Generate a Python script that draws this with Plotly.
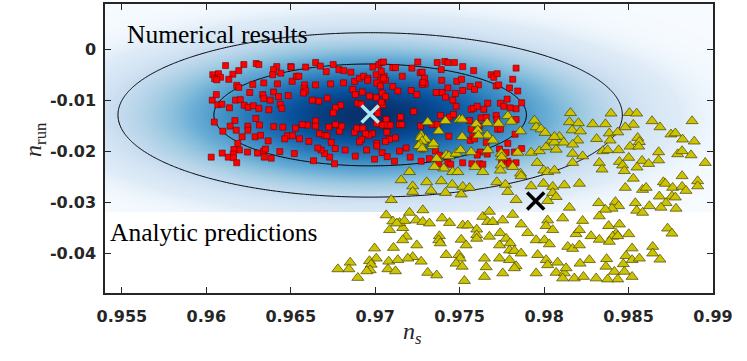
import numpy as np
import plotly.graph_objects as go
import plotly.express as px

# numerical results (red squares)
red_pts = [(0.96114,-0.0031),(0.96222,-0.0029),(0.96295,-0.0027),(0.96311,-0.0029),(0.96417,-0.0033),(0.96398,-0.0039),(0.9650,-0.0033),(0.96038,-0.0049),(0.96072,-0.0047),(0.96084,-0.0054),(0.96049,-0.0057),(0.96062,-0.0059),(0.96157,-0.0048),(0.96192,-0.0041),(0.96133,-0.0058),(0.9618,-0.0070),(0.96192,-0.0074),(0.96275,-0.0068),(0.9634,-0.0065),(0.96421,-0.0067),(0.96508,-0.0062),(0.96393,-0.0049),(0.96441,-0.0046),(0.96035,-0.0099),(0.96059,-0.0088),(0.96068,-0.0108),(0.96092,-0.0107),(0.96137,-0.0114),(0.96173,-0.0099),(0.96201,-0.0098),(0.96224,-0.0109),(0.96248,-0.0113),(0.96278,-0.0110),(0.96311,-0.0115),(0.96257,-0.0084),(0.96334,-0.0088),(0.9634,-0.0096),(0.96378,-0.0099),(0.96398,-0.0083),(0.96427,-0.0092),(0.96485,-0.0090),(0.96437,-0.0107),(0.96447,-0.0115),(0.9637,-0.0118),(0.96169,-0.0139),(0.96141,-0.0150),(0.96177,-0.0158),(0.96246,-0.0150),(0.96246,-0.0158),(0.96293,-0.0135),(0.96315,-0.0148),(0.96399,-0.0151),(0.96453,-0.0152),(0.96047,-0.0142),(0.96098,-0.0160),(0.96212,-0.0171),(0.96289,-0.0171),(0.96321,-0.0168),(0.96366,-0.0179),(0.9648,-0.0169),(0.9651,-0.0169),(0.96464,-0.0175),(0.96186,-0.0184),(0.96196,-0.0197),(0.96244,-0.0201),(0.96163,-0.0196),(0.96159,-0.0205),(0.9613,-0.0211),(0.96161,-0.0212),(0.96094,-0.0203),(0.96029,-0.0211),(0.9618,-0.0222),(0.96303,-0.0203),(0.9634,-0.0199),(0.9635,-0.0195),(0.96343,-0.0211),(0.96384,-0.0213),(0.96435,-0.0200),
    (0.96647,-0.0025),(0.96751,-0.0029),(0.96675,-0.0032),(0.96588,-0.0034),(0.96503,-0.0034),(0.96533,-0.0052),(0.96548,-0.0052),(0.96582,-0.0069),(0.96578,-0.0076),(0.96588,-0.0081),(0.96576,-0.0085),(0.9671,-0.0043),(0.96785,-0.0039),(0.96814,-0.0041),(0.96856,-0.0044),(0.96878,-0.0062),(0.96907,-0.0056),(0.96931,-0.0052),(0.96956,-0.0056),(0.96956,-0.0060),(0.96986,-0.0034),(0.97021,-0.0029),(0.97036,-0.0025),(0.97006,-0.0049),(0.97031,-0.0060),(0.97009,-0.0065),(0.97053,-0.0052),(0.9703,-0.0071),(0.96736,-0.0067),(0.96812,-0.0065),(0.96647,-0.0069),(0.96867,-0.0078),(0.96882,-0.0088),(0.96923,-0.0083),(0.96966,-0.0091),(0.97006,-0.0094),(0.97041,-0.0085),(0.96627,-0.0099),(0.96666,-0.0101),(0.96716,-0.0095),(0.96897,-0.0105),(0.96917,-0.0107),(0.96795,-0.0109),(0.96765,-0.0114),(0.96751,-0.0124),(0.97045,-0.0108),(0.97012,-0.0116),(0.97015,-0.0125),(0.97041,-0.0147),(0.97009,-0.0145),(0.96982,-0.0165),(0.96962,-0.0168),(0.97009,-0.0184),(0.97009,-0.0189),(0.97041,-0.0202),(0.96996,-0.0215),(0.96949,-0.0197),(0.96882,-0.0209),(0.96822,-0.0197),(0.96759,-0.0224),(0.9673,-0.0211),(0.967,-0.0204),(0.9668,-0.0197),(0.9666,-0.0193),(0.96635,-0.0218),(0.96521,-0.0204),(0.96552,-0.0175),(0.96528,-0.0154),(0.96598,-0.0148),(0.96647,-0.0140),(0.96647,-0.0150),(0.9667,-0.0165),(0.967,-0.0168),(0.96714,-0.0169),(0.96725,-0.0152),(0.96765,-0.0147),(0.96789,-0.0160),(0.96802,-0.0150),(0.96878,-0.0162),(0.96891,-0.0154),(0.96927,-0.0154),(0.96943,-0.0165),(0.96919,-0.0176),(0.96907,-0.0181),(0.9674,-0.0182),(0.96763,-0.0194),(0.96607,-0.0180),(0.96568,-0.0147),
    (0.97049,-0.0024),(0.97104,-0.0035),(0.9712,-0.0035),(0.97217,-0.0036),(0.97252,-0.0024),(0.97266,-0.0045),(0.97278,-0.0044),(0.97367,-0.0025),(0.97412,-0.0023),(0.9743,-0.0025),(0.97469,-0.0025),(0.97518,-0.0033),(0.97583,-0.0041),(0.97036,-0.0042),(0.97061,-0.0060),(0.97049,-0.0056),(0.9716,-0.0052),(0.97292,-0.0056),(0.97296,-0.0067),(0.97278,-0.0068),(0.97282,-0.0064),(0.97391,-0.0039),(0.97394,-0.0060),(0.9743,-0.0075),(0.97483,-0.0062),(0.97511,-0.0058),(0.97518,-0.0080),(0.97562,-0.0072),(0.97475,-0.0086),(0.97459,-0.0099),(0.97479,-0.0111),(0.97396,-0.0084),(0.97361,-0.0084),(0.97416,-0.0093),(0.97104,-0.0072),(0.97134,-0.0081),(0.97213,-0.0080),(0.97246,-0.0088),(0.97061,-0.0092),(0.97036,-0.0103),(0.97065,-0.0137),(0.9715,-0.0132),(0.97144,-0.0147),(0.97157,-0.0147),(0.97228,-0.0121),(0.97386,-0.0129),(0.9744,-0.0132),(0.97463,-0.0127),(0.97568,-0.0117),(0.97582,-0.0115),(0.97268,-0.0150),(0.97337,-0.0147),(0.97367,-0.0147),(0.97045,-0.0148),(0.97071,-0.0148),(0.97089,-0.0148),(0.97069,-0.0162),(0.9712,-0.0173),(0.97085,-0.0176),(0.97061,-0.0180),(0.97071,-0.0210),(0.97144,-0.0199),(0.97183,-0.0193),(0.97278,-0.0195),(0.97357,-0.0199),(0.9738,-0.0207),(0.97207,-0.0211),(0.97272,-0.0219),(0.97114,-0.0219),(0.97436,-0.0170),(0.97562,-0.0178),(0.97578,-0.0170),(0.97321,-0.0214),(0.97376,-0.0224),(0.9743,-0.0222),(0.97447,-0.0225),(0.97518,-0.0222),(0.97572,-0.0224),
    (0.97686,-0.0049),(0.97702,-0.0054),(0.97722,-0.0047),(0.97716,-0.0071),(0.97731,-0.0069),(0.97834,-0.0036),(0.97814,-0.0058),(0.97795,-0.0075),(0.97844,-0.0081),(0.97611,-0.0069),(0.97588,-0.0078),(0.97781,-0.0097),(0.97741,-0.0105),(0.97761,-0.0111),(0.97666,-0.0105),(0.97643,-0.0117),(0.97604,-0.0111),(0.97867,-0.0104),(0.97834,-0.0116),(0.97799,-0.0114),(0.97558,-0.0139),(0.97627,-0.0134),(0.97657,-0.0133),(0.97716,-0.0129),(0.9772,-0.0137),(0.97834,-0.0137),(0.97568,-0.0156),(0.97617,-0.0150),(0.97588,-0.0175),(0.97725,-0.0156),(0.97741,-0.0156),(0.97657,-0.0182),(0.97785,-0.0184),(0.97828,-0.0166),(0.97775,-0.0202),(0.97867,-0.0194),(0.97824,-0.0201),(0.97736,-0.0195),(0.97621,-0.0201),(0.97604,-0.0207),(0.97663,-0.0205),(0.97617,-0.0224),(0.97637,-0.0225),(0.97749,-0.0217),(0.97785,-0.0219),(0.97795,-0.0224),(0.97834,-0.0222)]

# analytic predictions (yellow triangles)
yel_pts = [(0.97311,-0.0142),(0.97416,-0.0140),(0.97499,-0.0137),(0.97515,-0.0137),(0.97376,-0.0160),(0.97272,-0.0168),(0.97268,-0.0173),(0.97298,-0.0176),(0.97278,-0.0180),(0.97266,-0.0186),(0.97258,-0.0189),(0.97278,-0.0194),(0.97341,-0.0189),(0.97345,-0.0184),(0.97515,-0.0171),(0.97364,-0.0214),(0.9742,-0.0207),(0.97436,-0.0209),(0.97479,-0.0204),(0.97505,-0.0197),(0.97568,-0.0201),(0.97406,-0.0233),(0.97459,-0.0240),(0.97489,-0.0240),(0.97203,-0.0240),(0.97351,-0.0230),
    (0.97598,-0.0146),(0.97663,-0.0144),(0.9773,-0.0145),(0.97607,-0.0158),(0.97785,-0.0130),(0.97805,-0.0141),(0.9786,-0.0160),(0.97943,-0.0139),(0.97953,-0.0152),(0.97982,-0.0156),(0.98006,-0.0163),(0.97663,-0.0168),(0.97696,-0.0178),(0.97611,-0.0168),(0.97666,-0.0197),(0.97746,-0.0204),(0.97749,-0.0211),(0.97844,-0.0202),(0.97923,-0.0202),(0.97972,-0.0199),(0.98012,-0.0191),(0.98045,-0.0178),(0.98061,-0.0182),(0.98071,-0.0196),(0.98091,-0.0171),(0.98061,-0.0171),(0.98116,-0.0182),(0.97959,-0.0222),(0.97998,-0.0237),(0.98021,-0.0240),(0.98061,-0.0237),(0.97592,-0.0230),(0.97637,-0.0240),(0.97746,-0.0227),(0.97814,-0.0230),(0.9786,-0.0243),(0.97741,-0.0237),
    (0.98169,-0.0204),(0.98169,-0.0222),(0.97305,-0.0260),(0.97391,-0.0258),(0.97456,-0.0265),(0.97518,-0.0269),(0.97558,-0.0271),(0.97222,-0.0268),(0.97222,-0.0279),(0.97331,-0.0277),(0.97416,-0.0281),(0.97509,-0.0284),(0.9772,-0.0260),(0.97771,-0.0265),(0.97864,-0.0248),(0.97996,-0.0263),(0.97923,-0.0268),(0.9812,-0.0266),(0.98209,-0.0263),(0.98051,-0.0269),(0.98051,-0.0281),(0.98071,-0.0289),(0.98021,-0.0297),(0.9815,-0.0310),(0.97834,-0.0295),(0.97785,-0.0279),(0.97203,-0.0320),(0.97282,-0.0315),(0.97396,-0.0331),(0.9744,-0.0340),(0.97518,-0.0345),(0.97548,-0.0345),(0.97637,-0.0328),(0.97676,-0.0318),(0.97666,-0.0338),(0.97696,-0.0338),(0.97755,-0.0335),(0.97814,-0.0324),(0.97864,-0.0343),(0.97903,-0.0360),(0.97953,-0.0374),(0.98021,-0.0335),(0.98012,-0.0346),(0.98051,-0.0354),(0.9811,-0.0331),(0.98189,-0.0362),(0.97601,-0.0353),(0.97601,-0.0364),(0.97601,-0.0371),(0.97676,-0.0367),(0.9774,-0.0360),(0.97736,-0.0384),(0.97775,-0.0371),(0.97799,-0.0380),(0.97795,-0.0394),(0.97824,-0.0395),(0.97864,-0.0400),(0.97163,-0.0350),(0.97183,-0.0367),(0.97163,-0.0374),(0.97246,-0.0384),(0.97243,-0.0335),(0.97282,-0.0338),(0.97321,-0.0341),(0.97144,-0.0340),(0.9738,-0.0366),(0.97376,-0.0374),(0.97385,-0.0380),(0.97509,-0.0373),(0.97538,-0.0384),(0.97272,-0.0416),(0.97222,-0.0407),(0.97193,-0.0410),(0.9742,-0.0403),(0.97495,-0.0403),(0.97503,-0.0410),(0.97479,-0.0420),(0.97515,-0.0426),(0.97647,-0.0410),(0.97657,-0.0427),(0.97736,-0.0410),(0.97795,-0.0413),(0.97834,-0.0425),(0.97824,-0.0429),(0.97755,-0.0439),(0.97647,-0.0446),(0.97528,-0.0454),(0.97311,-0.0438),(0.97364,-0.0443),(0.97962,-0.0403),(0.98012,-0.0413),(0.98021,-0.0423),(0.9808,-0.0418),(0.98071,-0.0438),(0.9812,-0.0439),(0.9813,-0.0429),(0.98179,-0.0449),(0.9811,-0.0449),(0.97953,-0.0439),(0.9814,-0.0387),(0.98169,-0.0391),(0.98209,-0.0384),(0.98209,-0.0354),(0.97173,-0.0336),(0.98002,-0.0374),(0.98031,-0.0382),
    (0.98156,-0.0124),(0.9815,-0.0142),(0.98203,-0.0144),(0.98166,-0.0158),(0.98215,-0.0160),(0.98199,-0.0178),(0.98169,-0.0186),(0.98228,-0.0209),(0.98288,-0.0146),(0.98363,-0.0146),(0.98396,-0.0125),(0.98386,-0.0164),(0.98391,-0.0178),(0.98311,-0.0175),(0.98347,-0.0199),(0.98376,-0.0197),(0.98441,-0.0197),(0.98327,-0.0222),(0.98343,-0.0235),(0.98446,-0.0220),(0.98465,-0.0227),(0.98475,-0.0238),(0.98505,-0.0124),(0.98548,-0.0125),(0.98528,-0.0147),(0.98481,-0.0152),(0.98436,-0.0162),(0.98554,-0.0173),(0.98564,-0.0181),(0.98509,-0.0190),(0.9856,-0.0190),(0.98501,-0.0212),(0.9858,-0.0218),(0.9855,-0.0231),(0.98619,-0.0224),(0.98639,-0.0140),(0.98686,-0.0152),(0.98751,-0.0166),(0.98777,-0.0164),(0.9882,-0.0176),(0.98889,-0.0180),(0.98678,-0.0201),(0.98678,-0.0217),(0.98791,-0.0205),(0.98817,-0.0199),(0.9887,-0.0207),(0.98876,-0.0140),(0.98954,-0.0222),(0.98528,-0.0253),(0.98481,-0.0271),(0.98583,-0.0275),(0.98604,-0.0271),(0.98682,-0.0288),(0.98706,-0.0260),(0.98718,-0.0263),(0.98761,-0.0271),(0.98757,-0.0288),(0.98777,-0.0290),(0.98817,-0.0248),(0.98817,-0.0269),(0.9884,-0.0277),(0.98909,-0.0258),(0.98909,-0.0268),(0.98722,-0.0301),(0.98781,-0.0312),(0.98692,-0.0310),(0.98623,-0.0307),(0.9854,-0.0301),(0.98548,-0.0316),(0.98583,-0.0320),(0.98422,-0.0299),(0.98441,-0.0307),(0.98402,-0.0312),(0.98323,-0.0301),(0.98363,-0.0314),(0.98228,-0.0336),(0.98382,-0.0346),(0.98327,-0.0327),(0.98446,-0.0343),(0.98426,-0.0361),(0.98406,-0.0367),(0.98436,-0.0366),(0.98386,-0.0377),(0.98278,-0.0366),(0.98327,-0.0373),(0.98501,-0.0362),(0.98521,-0.0390),(0.98485,-0.0405),(0.98521,-0.0413),(0.98564,-0.0410),(0.98469,-0.0421),(0.98643,-0.0387),(0.98643,-0.0400),(0.98686,-0.0412),(0.98731,-0.0351),(0.98757,-0.0361),(0.98268,-0.0413),(0.98213,-0.0420),(0.9837,-0.0411),(0.98366,-0.0426),(0.98416,-0.0436),(0.98475,-0.0436),(0.98521,-0.0446),(0.98436,-0.0451),(0.98376,-0.0451),(0.98308,-0.0449),(0.98233,-0.0446),
    (0.97154,-0.0256),(0.97095,-0.0295),(0.97065,-0.0325),(0.97104,-0.0337),(0.97128,-0.0341),(0.97085,-0.0354),(0.97108,-0.0389),(0.96996,-0.0390),(0.97006,-0.0410),(0.96966,-0.0415),(0.96976,-0.0422),(0.9697,-0.0433),(0.9695,-0.0435),(0.96852,-0.0418),(0.96844,-0.0431),(0.96779,-0.0431),(0.96897,-0.0448),(0.9708,-0.0416),(0.97075,-0.0431),(0.9712,-0.0435),(0.97134,-0.0413)]

# best fits
num_best = (0.9697, -0.0126)
ana_best = (0.9795, -0.0297)

# gaussian fit to the numerical results
mu_ns, mu_nrun = 0.9697, -0.0128
sig_ns, sig_nrun = 0.0061, 0.0066
levels = [0.05, 0.3166]  # 95% and 68% regions

red_x, red_y = zip(*red_pts)
yel_x, yel_y = zip(*yel_pts)

gx = np.linspace(0.954, 0.99, 361)
gy = np.linspace(-0.0318, 0.009, 205)
XX, YY = np.meshgrid(gx, gy)
Z = np.exp(-0.5 * ((XX - mu_ns) / sig_ns) ** 2 - 0.5 * ((YY - mu_nrun) / sig_nrun) ** 2)

blues = px.colors.sequential.Blues
gamma = 0.46
cscale = [[(i / (len(blues) - 1)) ** (1 / gamma), c] for i, c in enumerate(blues)]

fig = go.Figure()
fig.add_trace(go.Heatmap(x=gx, y=gy, z=Z, colorscale=cscale, zmin=0, zmax=1,
                         zsmooth='best', showscale=False, hoverinfo='skip'))
fig.add_trace(go.Contour(x=gx, y=gy, z=Z, autocontour=False,
                         contours=dict(start=levels[0], end=levels[1],
                                       size=levels[1] - levels[0], coloring='none'),
                         line=dict(color='black', width=1), showscale=False,
                         hoverinfo='skip'))
fig.add_trace(go.Scatter(x=red_x, y=red_y, mode='markers',
                         marker=dict(symbol='square', size=6, color='#ff0000',
                                     line=dict(color='rgb(110,0,0)', width=0.6))))
fig.add_trace(go.Scatter(x=yel_x, y=yel_y, mode='markers',
                         marker=dict(symbol='triangle-up', size=10.5, color='rgb(204,196,0)',
                                     line=dict(color='rgb(70,65,0)', width=0.7))))
fig.add_trace(go.Scatter(x=[num_best[0]], y=[num_best[1]], mode='markers',
                         marker=dict(symbol='x-thin', size=17,
                                     line=dict(color='rgb(175,232,242)', width=3.5))))
fig.add_trace(go.Scatter(x=[ana_best[0]], y=[ana_best[1]], mode='markers',
                         marker=dict(symbol='x-thin', size=17,
                                     line=dict(color='black', width=3.5))))

fig.add_shape(type='line', xref='paper', x0=0, x1=1, y0=-0.0318, y1=-0.0318,
              line=dict(color='rgb(225,225,225)', width=1), layer='below')

tickfont = dict(family='DejaVu Sans', size=16, color='#262626', weight='bold')
axis = dict(showgrid=False, zeroline=False, showline=True, mirror='ticks',
            linecolor='#262626', linewidth=1.5, ticks='inside', ticklen=6,
            tickwidth=1, tickcolor='#262626', tickfont=tickfont, automargin=False)

xt = [0.955, 0.96, 0.965, 0.97, 0.975, 0.98, 0.985, 0.99]
yt = [0, -0.01, -0.02, -0.03, -0.04]
fig.update_xaxes(range=[0.954, 0.99], tickvals=xt, ticktext=[f'{v:g}' for v in xt],
                 ticklabelstandoff=8, **axis)
fig.update_yaxes(range=[-0.0478, 0.009], tickvals=yt, ticktext=[f'{v:g}' for v in yt],
                 ticklabelstandoff=4, **axis)

serif = 'Liberation Serif'
fig.add_annotation(x=0.95516, y=0.0030, text='Numerical results', showarrow=False,
                   xanchor='left', yanchor='middle', font=dict(family=serif, size=25.5, color='black'))
fig.add_annotation(x=0.95416, y=-0.0360, text='Analytic predictions', showarrow=False,
                   xanchor='left', yanchor='middle', font=dict(family=serif, size=25.5, color='black'))
fig.add_annotation(x=0.9722, y=-0.138, yref='paper', showarrow=False,
                   xanchor='center', yanchor='middle',
                   text='<i>n</i><sub><i>s</i></sub>', font=dict(family=serif, size=24, color='#262626'))
fig.add_annotation(x=-0.115, y=0.53, xref='paper', yref='paper', showarrow=False, textangle=-90,
                   xanchor='center', yanchor='middle',
                   text='<i>n</i><sub>run</sub>', font=dict(family=serif, size=24, color='#262626'))

fig.update_layout(template='none', width=747, height=361,
                  margin=dict(l=105, r=34, t=4, b=68), hovermode=False,
                  plot_bgcolor='white', paper_bgcolor='white', showlegend=False)
# page body has a default 8px margin; drop it so the figure sits at the window corner
fig.write_html("out.html", config={'displayModeBar': False},
               post_script="document.body.style.margin='0px';")
